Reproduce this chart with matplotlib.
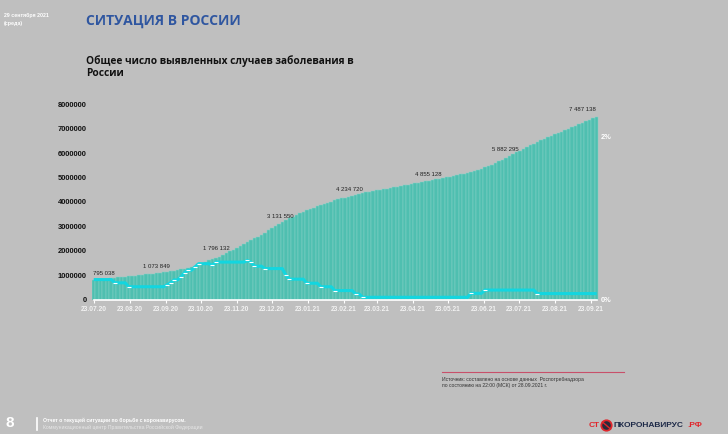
import numpy as np
import pandas as pd
import matplotlib
matplotlib.use("Agg")
import matplotlib.pyplot as plt
import matplotlib.dates as mdates
from matplotlib import font_manager
from matplotlib.patches import Circle
from matplotlib.lines import Line2D

plt.rcParams['font.family'] = ['Liberation Sans', 'DejaVu Sans']

# cumulative cases, every 3 days from 23.07.2020 to 28.09.2021
start = pd.Timestamp(2020, 7, 23)
cases = [
    795038, 810020, 825000, 839981, 855905, 871829, 887752, 903676, 919600, 935524,
    951447, 966371, 980804, 995237, 1010590, 1026403, 1042216, 1058029, 1073849, 1093055,
    1112261, 1131467, 1150673, 1169879, 1199732, 1234901, 1270070, 1305239, 1340409, 1392711,
    1445013, 1497315, 1549617, 1601919, 1654487, 1707605, 1760723, 1820622, 1894092, 1967562,
    2041032, 2114502, 2192334, 2270166, 2347713, 2424684, 2501655, 2578626, 2655597, 2741296,
    2831356, 2921416, 3011476, 3101536, 3180172, 3253105, 3326038, 3398971, 3471904, 3539449,
    3596203, 3652957, 3709711, 3766465, 3823219, 3872939, 3919130, 3965321, 4011512, 4057698,
    4098549, 4139400, 4180251, 4221102, 4256764, 4289830, 4322896, 4355962, 4389028, 4417109,
    4442705, 4468301, 4493897, 4519493, 4545095, 4571048, 4597001, 4622954, 4648907, 4675205,
    4702193, 4729181, 4756169, 4783157, 4810145, 4837133, 4864859, 4894052, 4923245, 4952438,
    4981631, 5010824, 5040017, 5069210, 5098403, 5130415, 5163844, 5197273, 5230702, 5264127,
    5315505, 5366883, 5418261, 5469639, 5521017, 5587306, 5661052, 5734798, 5808544, 5882295,
    5954010, 6025725, 6097440, 6169155, 6240870, 6311486, 6379913, 6448340, 6516767, 6585194,
    6646744, 6704860, 6762976, 6821092, 6879208, 6937333, 6997903, 7058473, 7119043, 7179613,
    7240549, 7302196, 7363843, 7425490, 7487138,
]
# growth, % (right axis)
growth = [
    0.245, 0.245, 0.245, 0.245, 0.245, 0.245, 0.205, 0.205, 0.205, 0.205,
    0.157, 0.157, 0.157, 0.157, 0.157, 0.157, 0.157, 0.157, 0.157, 0.157,
    0.157, 0.18, 0.205, 0.24, 0.24, 0.28, 0.33, 0.36, 0.36, 0.40,
    0.44, 0.44, 0.44, 0.44, 0.42, 0.46, 0.46, 0.46, 0.46, 0.46,
    0.46, 0.46, 0.46, 0.46, 0.48, 0.46, 0.41, 0.41, 0.41, 0.38,
    0.38, 0.38, 0.38, 0.38, 0.38, 0.30, 0.25, 0.25, 0.25, 0.25,
    0.25, 0.20, 0.20, 0.20, 0.20, 0.157, 0.157, 0.157, 0.157, 0.11,
    0.11, 0.11, 0.11, 0.11, 0.11, 0.067, 0.067, 0.027, 0.027, 0.027,
    0.027, 0.027, 0.027, 0.027, 0.027, 0.027, 0.027, 0.027, 0.027, 0.027,
    0.027, 0.027, 0.027, 0.027, 0.027, 0.027, 0.027, 0.027, 0.027, 0.027,
    0.027, 0.027, 0.027, 0.027, 0.027, 0.027, 0.027, 0.027, 0.076, 0.076,
    0.076, 0.076, 0.116, 0.116, 0.116, 0.116, 0.116, 0.116, 0.116, 0.116,
    0.116, 0.116, 0.116, 0.116, 0.116, 0.116, 0.116, 0.073, 0.073, 0.073,
    0.073, 0.073, 0.073, 0.073, 0.073, 0.073, 0.073, 0.073, 0.073, 0.073,
    0.073, 0.073, 0.073, 0.073, 0.073,
]
dates = pd.date_range(start, periods=len(cases), freq='3D')

# labelled points
label_dates = ['2020-07-23', '2020-09-15', '2020-11-10', '2020-12-30',
               '2021-02-28', '2021-05-06', '2021-07-15', '2021-09-28']
label_values = [795038, 1073849, 1796132, 3131550, 4234720, 4855128, 5882295, 7487138]
label_shift = [7, 0, -4, 0, 0, 0, -3, -10]   # points

tick_labels = ['23.07.20', '23.08.20', '23.09.20', '23.10.20', '23.11.20', '23.12.20',
               '23.01.21', '23.02.21', '23.03.21', '23.04.21', '23.05.21', '23.06.21',
               '23.07.21', '23.08.21', '23.09.21']
tick_dates = [start + pd.DateOffset(months=i) for i in range(len(tick_labels))]

# narrow font for the headline if available
installed = {f.name for f in font_manager.fontManager.ttflist}
if 'Liberation Sans Narrow' in installed:
    head_font, head_size = ['Liberation Sans Narrow', 'DejaVu Sans'], 12.5
else:
    head_font, head_size = ['Open Sans', 'DejaVu Sans'], 10

bg = '#bfbfbf'
W, H = 728, 434
fig = plt.figure(figsize=(W / 100, H / 100), dpi=100, facecolor=bg)

def px(x, y):
    return x / W, 1 - y / H

ax = fig.add_axes([92 / W, (H - 299.5) / H, (599 - 92) / W, (299.5 - 104.3) / H])
ax.set_facecolor('none')
ax.bar(dates, cases, width=3, color='#4fbfb0', edgecolor='#86d3c8', linewidth=0.35, zorder=2)
ax.set_xlim(start - pd.Timedelta(days=1.5), dates[-1] + pd.Timedelta(days=2))
ax.set_ylim(0, 8000000)
ax.set_yticks(range(0, 8000001, 1000000))
ax.set_yticklabels([str(v) for v in range(0, 8000001, 1000000)],
                   fontsize=5.4, fontweight='bold', color='#111111')
ax.set_xticks(tick_dates)
ax.set_xticklabels(tick_labels, fontsize=4.8, fontweight='bold', color='#f2f2f2')
ax.tick_params(axis='y', length=0, pad=4)
ax.tick_params(axis='x', length=2, width=0.8, color='white', pad=2.5)
for s in ['top', 'right', 'left']:
    ax.spines[s].set_visible(False)
ax.spines['bottom'].set_color('white')
ax.spines['bottom'].set_linewidth(1.2)
ax.spines['bottom'].set_bounds(mdates.date2num(dates[0]), mdates.date2num(dates[-1]))

for d, v, sh in zip(label_dates, label_values, label_shift):
    ax.annotate('{:,}'.format(v).replace(',', ' '), (pd.Timestamp(d), v),
                xytext=(sh, 5), textcoords='offset points', ha='center', va='center',
                fontsize=4.3, color='#222222', zorder=5)

ax2 = ax.twinx()
ax2.set_ylim(0, 2.4)
ax2.plot(dates, growth, color='#12d6e0', linewidth=2.2, solid_capstyle='butt', zorder=4)
g = np.array(growth)
chg = np.where(np.diff(g) != 0)[0] + 1
ax2.plot(dates[chg], g[chg], linestyle='none', marker='_', markersize=2.5,
         markeredgewidth=0.8, color='white', zorder=5)
ax2.set_yticks([0, 2])
ax2.set_yticklabels(['0%', '2%'], fontsize=5.4, fontweight='bold', color='white')
ax2.tick_params(axis='y', length=0, pad=1.5)
for s in ax2.spines.values():
    s.set_visible(False)

# header texts
fig.text(*px(4, 15), '29 сентября 2021', fontsize=3.8, fontweight='bold', color='white', va='center')
fig.text(*px(4, 23), '(среда)', fontsize=3.8, fontweight='bold', color='white', va='center')
fig.text(*px(86, 21), 'СИТУАЦИЯ В РОССИИ', fontsize=head_size, fontweight='bold',
         color='#2f56a0', va='center', family=head_font)
fig.text(*px(86, 61), 'Общее число выявленных случаев заболевания в', fontsize=7.3,
         fontweight='bold', color='#111111', va='center', family=['Open Sans', 'DejaVu Sans'])
fig.text(*px(86, 73), 'России', fontsize=7.3, fontweight='bold', color='#111111',
         va='center', family=['Open Sans', 'DejaVu Sans'])

# source
fig.add_artist(Line2D([441.7 / W, 624 / W], [1 - 371.7 / H] * 2, color='#c8506a', linewidth=0.8))
fig.text(*px(442, 379), 'Источник: составлено на основе данных  Роспотребнадзора',
         fontsize=3.6, color='#333333', va='center')
fig.text(*px(442, 385.5), 'по состоянию на 22:00 (МСК) от 28.09.2021 г.',
         fontsize=3.6, color='#333333', va='center')

# footer
fig.text(*px(5, 423), '8', fontsize=11, fontweight='bold', color='white', va='center')
fig.add_artist(Line2D([37 / W, 37 / W], [1 - 418 / H, 1 - 430 / H], color='white', linewidth=1.2))
fig.text(*px(43, 420.5), 'Отчет о текущей ситуации по борьбе с коронавирусом.',
         fontsize=3.7, fontweight='bold', color='white', va='center')
fig.text(*px(43, 427), 'Коммуникационный центр Правительства Российской Федерации',
         fontsize=3.7, color='#e6e6e6', va='center')

# logo
fig.text(*px(600, 425.5), 'СТ', fontsize=6, fontweight='bold', color='#e0262c', ha='right', va='center')
fig.add_artist(Circle((606.5 / 100, (H - 425.5) / 100), 0.052, transform=fig.dpi_scale_trans,
                      facecolor='#2a2a3a', edgecolor='#e0262c', linewidth=1.3))
fig.add_artist(Line2D([602.5 / W, 610.5 / W], [1 - 422 / H, 1 - 429 / H], color='#e0262c', linewidth=1.0))
fig.text(*px(613, 425.5), 'ПКОРОНАВИРУС', fontsize=6, fontweight='bold', color='#1e2a48', va='center')
fig.text(*px(687, 425.5), '.РФ', fontsize=6, fontweight='bold', color='#e0262c', va='center')

fig.savefig('out.png', dpi=100, facecolor=bg)
